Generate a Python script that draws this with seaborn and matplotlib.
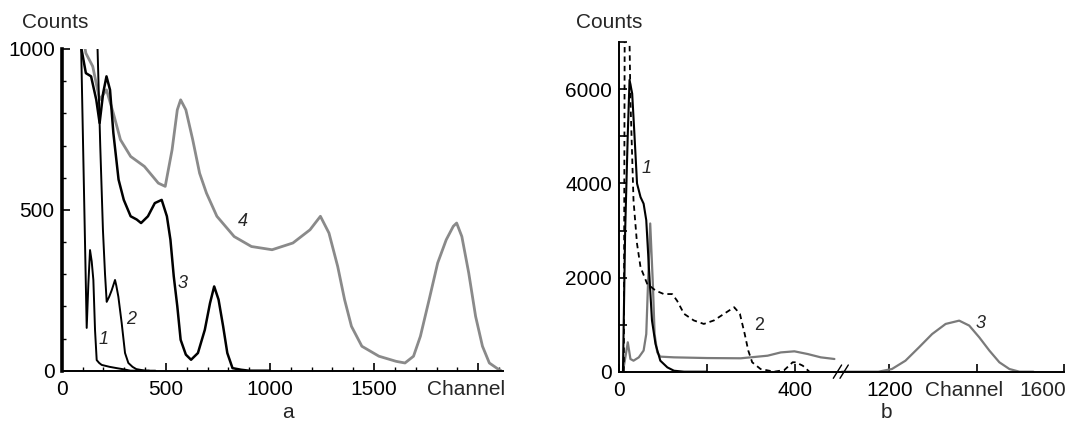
import numpy as np
import matplotlib
matplotlib.use("Agg")
import matplotlib.pyplot as plt
import seaborn as sns
from matplotlib.lines import Line2D
from matplotlib.ticker import MultipleLocator

# ---- panel a: spectra, channel vs counts ----
a1_ch = [92, 120, 128, 136, 144, 152, 160, 168, 180, 192, 230, 264, 300, 330, 420]
a1_ct = [1050, 133, 270, 375, 340, 282, 126, 33, 24, 18, 12, 8, 4, 0, 0]

a2_ch = [170, 185, 198, 208, 216, 228, 240, 250, 256, 262, 272, 288, 304, 320, 340, 358, 400, 450]
a2_ct = [1050, 700, 437, 300, 214, 230, 250, 270, 282, 265, 230, 148, 55, 24, 12, 5, 0, 0]

a3_ch = [88, 95, 116, 141, 166, 182, 199, 215, 232, 248, 273, 298, 331, 360, 381, 414, 447,
         480, 505, 522, 538, 555, 571, 596, 621, 654, 687, 712, 732, 753, 775, 795, 820, 861, 900, 1000]
a3_ct = [1050, 1000, 925, 915, 842, 770, 863, 915, 873, 739, 594, 531, 480, 470, 459, 480, 521,
         531, 480, 407, 293, 200, 96, 50, 34, 55, 127, 210, 262, 221, 138, 55, 8, 3, 0, 0]

a4_ch = [100, 116, 149, 182, 215, 248, 282, 331, 397, 464, 497, 530, 555, 571, 596, 629, 662,
         695, 745, 828, 911, 1010, 1110, 1192, 1242, 1283, 1325, 1358, 1391, 1441, 1523, 1606,
         1648, 1689, 1722, 1764, 1805, 1846, 1880, 1896, 1921, 1954, 1987, 2020, 2053, 2095, 2110]
a4_ct = [1050, 987, 946, 842, 873, 800, 718, 666, 635, 583, 573, 687, 811, 842, 811, 718, 614,
         552, 480, 417, 386, 376, 397, 438, 480, 428, 324, 221, 138, 76, 45, 29,
         24, 45, 107, 221, 335, 407, 449, 459, 417, 304, 169, 76, 24, 5, 0]

# ---- panel b ----
b1_ch = [9, 14, 20, 24, 30, 35, 41, 49, 56, 62, 68, 75, 83, 94, 110, 125, 148, 200]
b1_ct = [0, 3000, 5060, 6200, 5910, 5060, 4000, 3710, 3570, 3220, 2220, 1090, 590, 234, 92, 21, 0, 0]

b2_ch = [11, 13, 17, 22, 24, 26, 33, 41, 49, 64, 83, 102, 121, 132, 148, 170, 193, 216, 239,
         262, 275, 286, 294, 303, 322, 353, 376, 395, 402, 418, 433]
b2_ct = [0, 7500, 9000, 7500, 7000, 5770, 3640, 2720, 2220, 1870, 1725, 1650, 1650, 1510, 1230,
         1090, 1015, 1090, 1230, 1370, 1230, 800, 450, 200, 57, 0, 35, 200, 200, 128, 0]

b3_ch = [9, 17, 20, 26, 33, 45, 56, 62, 66, 71, 77, 81, 87, 94, 125, 201, 277, 338, 368, 399,
         429, 459, 490]
b3_ct = [0, 450, 625, 270, 234, 305, 450, 800, 1870, 3150, 1870, 800, 410, 320, 305, 290, 285,
         340, 410, 433, 376, 305, 270]

b3r_ch = [1091, 1175, 1206, 1237, 1268, 1298, 1329, 1360, 1383, 1406, 1429, 1452, 1475, 1498, 1530]
b3r_ct = [0, 0, 57, 234, 518, 800, 1015, 1085, 980, 730, 450, 200, 57, 0, 0]

sns.set_style("ticks")
plt.rcParams['font.family'] = ['Liberation Sans', 'DejaVu Sans']
FS = 15

W, H = 1069, 421
fig = plt.figure(figsize=(W / 100, H / 100), dpi=100)


def px_axes(left, right, top, bottom):
    return fig.add_axes([left / W, 1 - bottom / H, (right - left) / W, (bottom - top) / H])


def line(ax, x, y, color, lw=1.3, **kw):
    sns.lineplot(x=x, y=y, ax=ax, color=color, lw=lw, sort=False, estimator=None, **kw)


def style(ax, left=True):
    sns.despine(ax=ax, top=True, right=True, left=not left)
    ax.tick_params(which='both', direction='in', colors='black', labelsize=FS)
    ax.tick_params(which='major', length=5.5, width=1.2)
    ax.tick_params(axis='x', which='major', pad=6.5)
    ax.tick_params(axis='y', which='major', pad=5)
    ax.tick_params(which='minor', length=2.8, width=1.0)
    for s in ax.spines.values():
        s.set_color('black')
        s.set_linewidth(1.4)
    ax.set_facecolor('none')
    ax.set_xlabel('')
    ax.set_ylabel('')


# panel a
ax = px_axes(61.7, 503.3, 49, 370.7)
line(ax, a4_ch, a4_ct, '#8a8a8a', lw=2.0)
line(ax, a3_ch, a3_ct, 'black', lw=1.8)
line(ax, a2_ch, a2_ct, 'black', lw=1.4)
line(ax, a1_ch, a1_ct, 'black', lw=1.4)
ax.set_xlim(0, 2120)
ax.set_ylim(0, 1000)
style(ax)
ax.spines['left'].set_linewidth(2.6)
ax.set_xticks([0, 500, 1000, 1500, 2000])
ax.set_xticklabels(['0', '500', '1000', '1500', ''])
ax.xaxis.set_minor_locator(MultipleLocator(100))
ax.set_yticks([0, 500, 1000])
ax.yaxis.set_minor_locator(MultipleLocator(100))
ax.text(1940, -9 / 321.7, 'Channel', transform=ax.get_xaxis_transform(), ha='center', va='top', fontsize=FS)
for t, x, y in [('1', 199, 96), ('2', 332, 158), ('3', 582, 272), ('4', 869, 464)]:
    ax.text(x, y, t, style='italic', fontsize=13, ha='center', va='center')

# panel b (broken x axis)
bl = px_axes(619, 841, 42.3, 371.7)
br = px_axes(841, 1064, 42.3, 371.7)
line(bl, b3_ch, b3_ct, '#7a7a7a', lw=1.6)
line(bl, b1_ch, b1_ct, 'black', lw=1.5)
line(bl, b2_ch, b2_ct, 'black', lw=1.3, linestyle=(0, (3, 2.2)))
line(br, b3r_ch, b3r_ct, '#7a7a7a', lw=1.6)
for a in (bl, br):
    a.set_ylim(0, 7000)
bl.set_xlim(0, 505)
br.set_xlim(1089.4, 1600)
style(bl)
style(br, left=False)
bl.set_yticks(range(0, 7001, 1000))
bl.set_yticklabels(['0', '', '2000', '', '4000', '', '6000', ''])
br.set_yticks([])
bl.set_xticks([0, 200, 400])
bl.set_xticklabels(['0', '', '400'])
br.set_xticks([1200, 1400, 1600])
br.set_xticklabels(['1200', '', ''])
off = -9 / 329.4
br.text(1372, off, 'Channel', transform=br.get_xaxis_transform(), ha='center', va='top', fontsize=FS)
br.text(1604, off, '1600', transform=br.get_xaxis_transform(), ha='right', va='top', fontsize=FS)
bl.text(62, 4317, '1', style='italic', fontsize=13, ha='center', va='center')
bl.text(319, 980, '2', fontsize=13, ha='center', va='center')
br.text(1410, 1015, '3', style='italic', fontsize=13, ha='center', va='center')

# break marks on the axis
for x0 in (833.3, 840.0):
    fig.add_artist(Line2D([x0 / W, (x0 + 8.3) / W], [1 - 378.3 / H, 1 - 365 / H],
                          transform=fig.transFigure, color='black', lw=1.0))

# titles and panel letters
fig.text(55 / W, 1 - 23 / H, 'Counts', ha='center', va='center', fontsize=FS)
fig.text(609 / W, 1 - 22 / H, 'Counts', ha='center', va='center', fontsize=FS)
fig.text(288 / W, 1 - 413 / H, 'a', ha='center', va='center', fontsize=FS)
fig.text(886.7 / W, 1 - 413 / H, 'b', ha='center', va='center', fontsize=FS)

fig.savefig('out.png', dpi=100)
